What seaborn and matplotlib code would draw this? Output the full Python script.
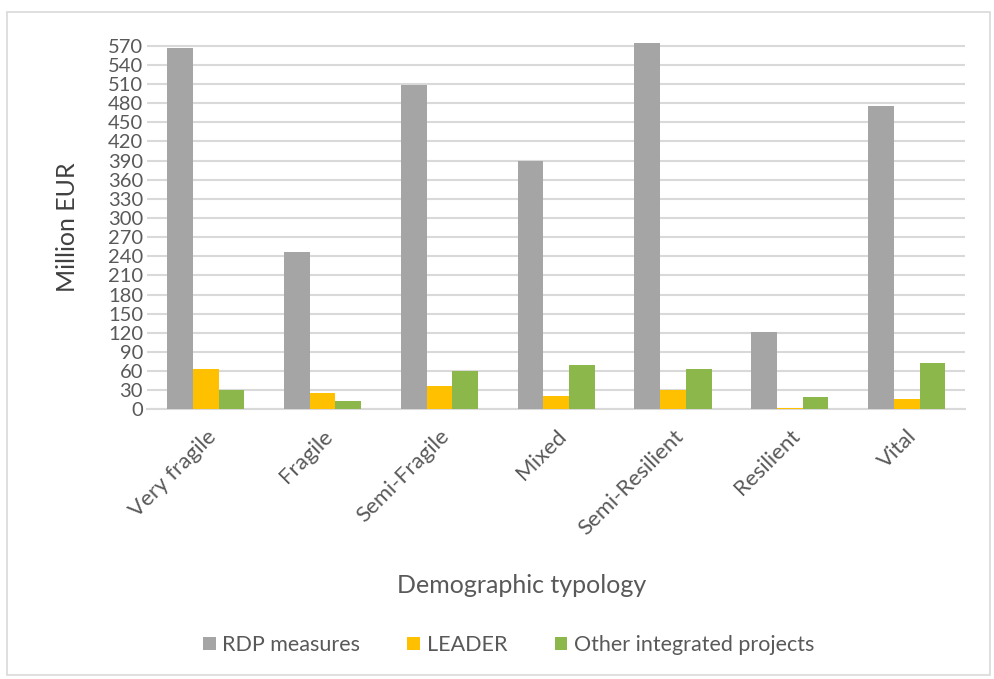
import numpy as np
import pandas as pd
import matplotlib
matplotlib.use('Agg')
import matplotlib.pyplot as plt
import seaborn as sns
from matplotlib.patches import Rectangle, Patch

# ── Data (million EUR) ─────────────────────────────────────────────────────────
categories = ['Very fragile', 'Fragile', 'Semi-Fragile', 'Mixed',
              'Semi-Resilient', 'Resilient', 'Vital']
rdp_measures = [567, 246, 509, 390, 575, 122, 476]
leader       = [63, 25, 36, 21, 31, 3, 17]
other_proj   = [30, 13, 60, 69, 63, 19, 73]
series_names = ['RDP measures', 'LEADER', 'Other integrated projects']
y_ticks = list(range(0, 571, 30))

df = pd.DataFrame({
    'typology': categories * 3,
    'value': rdp_measures + leader + other_proj,
    'series': [s for s in series_names for _ in categories],
})

colors = ['#A5A5A5', '#FFC000', '#8CB84B']
txt = '#595959'

sns.set_theme(style='white')
plt.rcParams['font.family'] = ['Lato', 'DejaVu Sans']

fig = plt.figure(figsize=(9.95, 6.79), dpi=100)
ax = fig.add_axes([0.148, 0.397, 0.822, 0.545])

sns.barplot(data=df, x='typology', y='value', hue='series', order=categories,
            hue_order=series_names, palette=colors, width=0.66, gap=0,
            saturation=1, linewidth=0, edgecolor='none',
            ax=ax, legend=False, zorder=3)

ax.set_ylim(0, 580)
ax.set_yticks(y_ticks)
ax.set_yticklabels([str(v) for v in y_ticks], fontsize=14.5, color=txt)
ax.yaxis.grid(True, color='#D9D9D9', linewidth=1.5, zorder=0)
ax.set_axisbelow(True)
for s in ['top', 'right', 'left']:
    ax.spines[s].set_visible(False)
ax.spines['bottom'].set_color('#D9D9D9')
ax.spines['bottom'].set_linewidth(1.5)
ax.tick_params(axis='both', length=0, pad=3)
ax.set_xticks(range(len(categories)))
ax.set_xticklabels(categories, rotation=45, ha='right', rotation_mode='anchor',
                   fontsize=16, color=txt)
ax.tick_params(axis='x', pad=12)

ax.set_xlabel('')
ax.set_ylabel('')
fig.text(0.068, 0.665, 'Million EUR', rotation=90, ha='center', va='center',
         fontsize=18, color='#404040')
fig.text(0.524, 0.138, 'Demographic typology', ha='center', va='center',
         fontsize=18, color=txt)

handles = [Patch(facecolor=c, edgecolor='none') for c in colors]
fig.legend(handles, series_names, loc='center', bbox_to_anchor=(0.511, 0.05),
           ncol=3, frameon=False, fontsize=15.5, handlelength=0.6, handleheight=0.6,
           handletextpad=0.3, columnspacing=2.2, labelcolor=txt)

# outer chart-area frame
fig.patches.append(Rectangle((0.007, 0.006), 0.988, 0.976, transform=fig.transFigure,
                             fill=False, edgecolor='#D9D9D9', linewidth=1.2))

fig.savefig('out.png', dpi=100, facecolor='white')
